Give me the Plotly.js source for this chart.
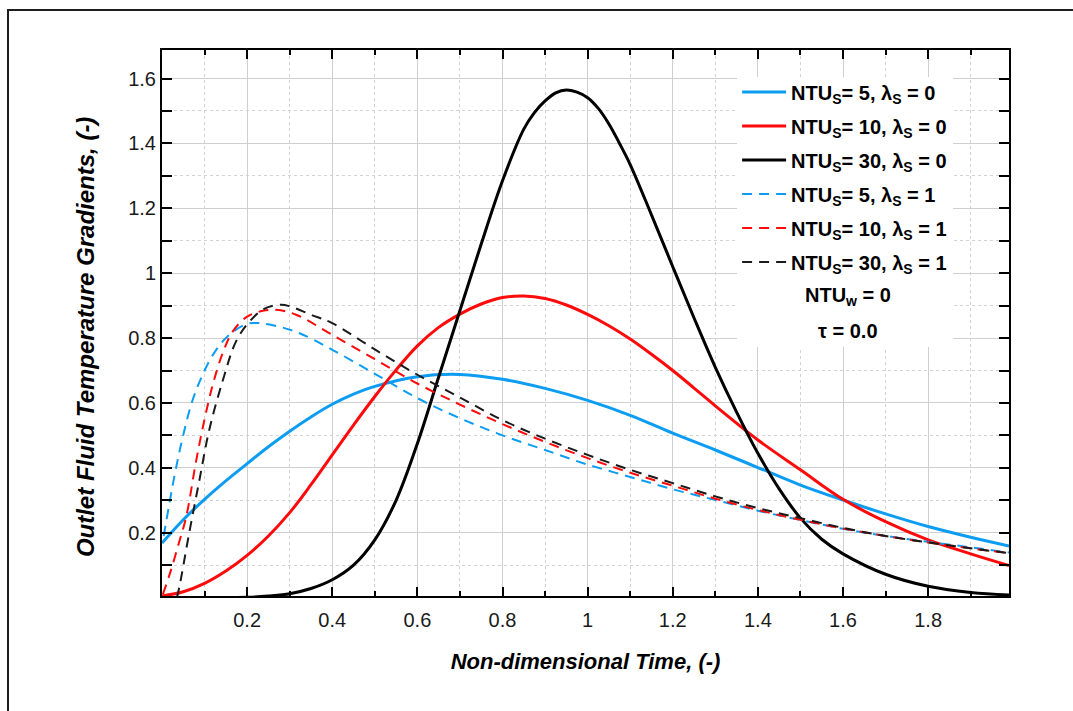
<!DOCTYPE html>
<html>
<head>
<meta charset="utf-8">
<script src="https://cdn.plot.ly/plotly-3.0.1.min.js"></script>
<style>
  html, body { margin: 0; padding: 0; background: #fff; overflow: hidden; }
  #frame { position: absolute; left: 7px; top: 9px; width: 1200px; height: 900px;
           border-left: 2px solid #1e1e1e; border-top: 2px solid #1e1e1e; }
  #chart { position: absolute; left: 0; top: 0; width: 1073px; height: 711px; }
</style>
</head>
<body>
<div id="frame"></div>
<div id="chart"></div>
<script>
// ---- data ----
const xBlueSolid = [0,0.05,0.1,0.15,0.2,0.25,0.3,0.35,0.4,0.45,0.5,0.6,0.7,0.8,0.9,1.0,1.1,1.2,1.3,1.4,1.5,1.6,1.7,1.8,1.9,1.99];
const yBlueSolid = [0.168,0.24,0.303,0.36,0.413,0.465,0.513,0.557,0.596,0.627,0.651,0.681,0.688,0.673,0.645,0.608,0.562,0.507,0.455,0.401,0.347,0.301,0.258,0.219,0.186,0.159];

const xRedSolid = [0,0.05,0.1,0.15,0.2,0.25,0.3,0.35,0.4,0.45,0.5,0.55,0.6,0.65,0.7,0.75,0.8,0.85,0.9,0.95,1.0,1.05,1.1,1.15,1.2,1.25,1.3,1.4,1.5,1.6,1.7,1.8,1.9,1.99];
const yRedSolid = [0.005,0.018,0.044,0.082,0.13,0.19,0.262,0.348,0.44,0.532,0.62,0.702,0.776,0.833,0.874,0.905,0.925,0.93,0.922,0.902,0.873,0.838,0.797,0.75,0.70,0.646,0.591,0.486,0.394,0.303,0.234,0.178,0.135,0.099];

const xBlackSolid = [0,0.1,0.2,0.25,0.3,0.35,0.4,0.45,0.5,0.55,0.6,0.65,0.7,0.75,0.8,0.85,0.875,0.9,0.925,0.95,0.975,1.0,1.025,1.05,1.075,1.1,1.15,1.2,1.25,1.3,1.35,1.4,1.45,1.5,1.55,1.6,1.7,1.8,1.9,1.99];
const yBlackSolid = [0,0,0.001,0.005,0.012,0.028,0.055,0.1,0.178,0.3,0.475,0.68,0.885,1.09,1.285,1.444,1.495,1.531,1.556,1.565,1.558,1.541,1.508,1.46,1.40,1.335,1.18,1.02,0.862,0.71,0.572,0.445,0.335,0.245,0.18,0.135,0.072,0.035,0.016,0.008];

const xBlueDash = [0.004,0.029,0.049,0.072,0.1,0.127,0.158,0.2,0.23,0.276,0.323,0.4,0.5,0.6,0.7,0.8,0.9,1.0,1.1,1.2,1.3,1.4,1.5,1.6,1.7,1.8,1.9,1.99];
const yBlueDash = [0.19,0.373,0.496,0.609,0.70,0.763,0.81,0.844,0.846,0.835,0.815,0.764,0.69,0.615,0.553,0.5,0.455,0.41,0.372,0.334,0.301,0.268,0.239,0.212,0.19,0.172,0.155,0.139];

const xRedDash = [0.002,0.02,0.04,0.057,0.08,0.1,0.12,0.143,0.166,0.2,0.237,0.268,0.315,0.4,0.5,0.6,0.7,0.8,0.9,1.0,1.1,1.2,1.3,1.4,1.5,1.6,1.7,1.8,1.9,1.99];
const yRedDash = [0.01,0.08,0.17,0.25,0.42,0.55,0.66,0.755,0.82,0.866,0.884,0.887,0.872,0.81,0.735,0.66,0.595,0.535,0.48,0.43,0.385,0.345,0.305,0.27,0.24,0.213,0.19,0.17,0.152,0.137];

const xBlackDash = [0.035,0.041,0.064,0.088,0.111,0.143,0.174,0.205,0.24,0.28,0.3,0.35,0.4,0.5,0.6,0.7,0.8,0.9,1.0,1.1,1.2,1.3,1.4,1.5,1.6,1.7,1.8,1.9,1.99];
const yBlackDash = [0.0,0.034,0.2,0.363,0.517,0.67,0.79,0.85,0.89,0.903,0.898,0.872,0.846,0.765,0.687,0.617,0.547,0.49,0.44,0.394,0.353,0.312,0.276,0.245,0.215,0.19,0.17,0.152,0.137];

const seriesNames = [
  '<b>NTU<sub>S</sub>= 5, λ<sub>S</sub> = 0</b>',
  '<b>NTU<sub>S</sub>= 10, λ<sub>S</sub> = 0</b>',
  '<b>NTU<sub>S</sub>= 30, λ<sub>S</sub> = 0</b>',
  '<b>NTU<sub>S</sub>= 5, λ<sub>S</sub> = 1</b>',
  '<b>NTU<sub>S</sub>= 10, λ<sub>S</sub> = 1</b>',
  '<b>NTU<sub>S</sub>= 30, λ<sub>S</sub> = 1</b>'
];
const noteLines = ['<b>NTU<sub>w</sub> = 0</b>', '<b>τ = 0.0</b>'];

const xTickVals = [0.2,0.4,0.6,0.8,1.0,1.2,1.4,1.6,1.8];
const xTickText = ['0.2','0.4','0.6','0.8','1','1.2','1.4','1.6','1.8'];
const yTickVals = [0.2,0.4,0.6,0.8,1.0,1.2,1.4,1.6];
const yTickText = ['0.2','0.4','0.6','0.8','1','1.2','1.4','1.6'];

const xTitle = 'Non-dimensional Time, (-)';
const yTitle = 'Outlet Fluid Temperature Gradients, (-)';

// ---- styling ----
const BLUE = '#0C9DF2', RED = '#FF0A0A', BLACK = '#000000';
const FONT = 'Liberation Sans, Arial, Helvetica, sans-serif';

function tr(x, y, name, color, dashed, group) {
  return {
    x: x, y: y, name: name, type: 'scatter', mode: 'lines',
    legendgroup: group,
    line: { color: color, width: dashed ? 2 : 3, dash: dashed ? '10px,7px' : 'solid', shape: 'spline', smoothing: 1 },
    hoverinfo: 'skip'
  };
}

const data = [
  tr(xBlueSolid, yBlueSolid, seriesNames[0], BLUE, false, 'g1'),
  tr(xRedSolid, yRedSolid, seriesNames[1], RED, false, 'g2'),
  tr(xBlackSolid, yBlackSolid, seriesNames[2], BLACK, false, 'g3'),
  tr(xBlueDash, yBlueDash, seriesNames[3], BLUE, true, 'g4'),
  tr(xRedDash, yRedDash, seriesNames[4], RED, true, 'g5'),
  tr(xBlackDash, yBlackDash, seriesNames[5], '#1a1a1a', true, 'g6')
];

const axisCommon = {
  showline: true, linecolor: '#000', linewidth: 2, mirror: 'ticks',
  ticks: 'inside', tickcolor: '#000', tickwidth: 2,
  showgrid: true, gridcolor: '#cfcfcf', gridwidth: 1,
  zeroline: false,
  tickfont: { family: FONT, size: 20, color: '#1a1a1a' },
  tickmode: 'array'
};

const layout = {
  width: 1073, height: 711,
  margin: { l: 162, r: 64, t: 50, b: 115 },
  paper_bgcolor: 'rgba(0,0,0,0)', plot_bgcolor: 'rgba(0,0,0,0)',
  showlegend: true,
  xaxis: Object.assign({}, axisCommon, {
    range: [0, 1.99], tickvals: xTickVals, ticktext: xTickText, ticklen: 9,
    ticklabelstandoff: 5,
    minor: { tick0: 0, dtick: 0.1, ticks: 'inside', ticklen: 5, tickwidth: 2, tickcolor: '#000',
             showgrid: true, gridcolor: '#d2d2d2', gridwidth: 1, griddash: '3px,3px' },
    title: { text: '<b><i>' + xTitle + '</i></b>', font: { family: FONT, size: 22, color: '#000' }, standoff: 24 }
  }),
  yaxis: Object.assign({}, axisCommon, {
    range: [0.005, 1.688], tickvals: yTickVals, ticktext: yTickText, ticklen: 10,
    minor: { tick0: 0, dtick: 0.1, ticks: 'inside', ticklen: 10, tickwidth: 2, tickcolor: '#000',
             showgrid: true, gridcolor: '#d2d2d2', gridwidth: 1, griddash: '3px,3px' }
  }),
  legend: {
    x: 0.679, y: 0.959, xanchor: 'left', yanchor: 'top',
    bgcolor: 'rgba(0,0,0,0)', borderwidth: 0,
    font: { family: FONT, size: 20, color: '#000' },
    tracegroupgap: 5, itemwidth: 44
  },
  shapes: [
    { type: 'rect', xref: 'paper', yref: 'paper', x0: 0.679, x1: 0.934, y0: 0.456, y1: 0.9505,
      fillcolor: '#ffffff', line: { width: 0 }, layer: 'above' }
  ],
  annotations: [
    { xref: 'paper', yref: 'paper', x: 0.81, y: 0.548, text: noteLines[0], showarrow: false,
      xanchor: 'center', yanchor: 'middle', font: { family: FONT, size: 20, color: '#000' } },
    { xref: 'paper', yref: 'paper', x: 0.81, y: 0.486, text: noteLines[1], showarrow: false,
      xanchor: 'center', yanchor: 'middle', font: { family: FONT, size: 20, color: '#000' } },
    { xref: 'paper', yref: 'paper', x: -0.091, y: 0.474, text: '<b><i>' + yTitle + '</i></b>',
      textangle: -90, showarrow: false, xanchor: 'center', yanchor: 'middle',
      font: { family: FONT, size: 24, color: '#000' } }
  ]
};

Plotly.newPlot('chart', data, layout, { staticPlot: true, displayModeBar: false });
</script>
</body>
</html>
